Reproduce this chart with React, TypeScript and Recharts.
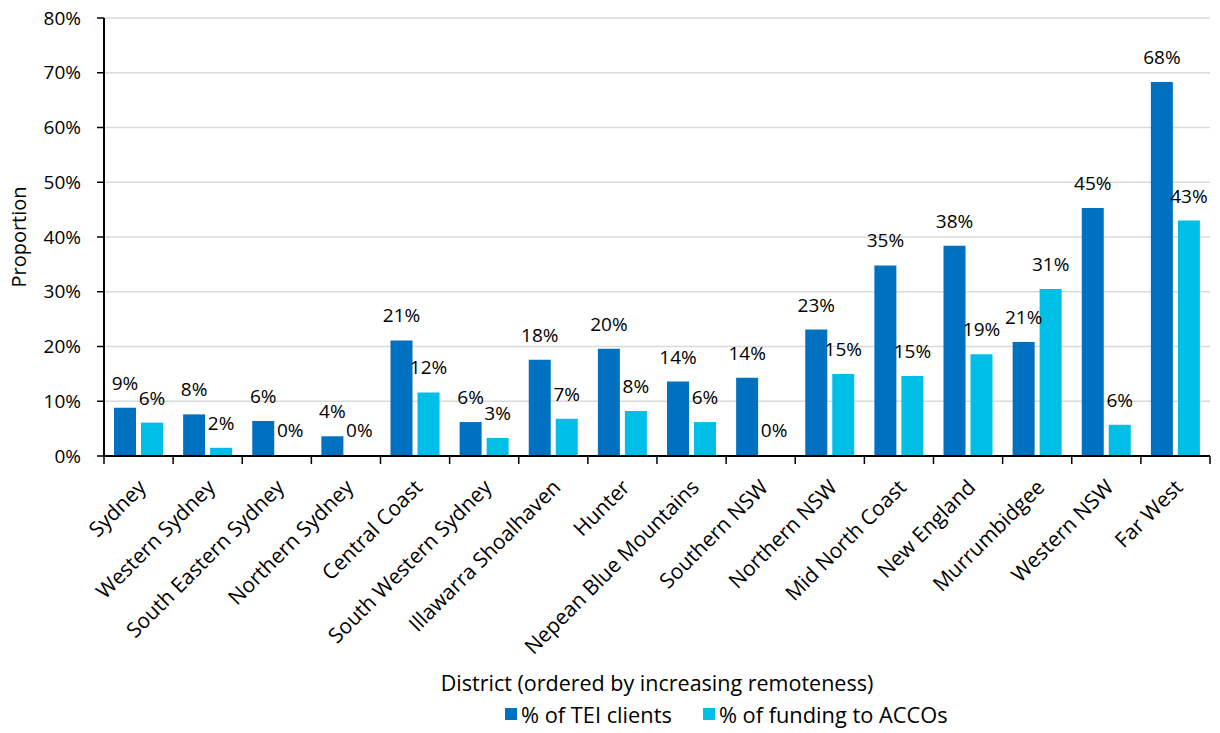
import React from "react";
import {
  BarChart,
  Bar,
  XAxis,
  YAxis,
  CartesianGrid,
  LabelList,
  Label,
  Legend,
} from "recharts";

// Districts, ordered by increasing remoteness
const districts = [
  "Sydney",
  "Western Sydney",
  "South Eastern Sydney",
  "Northern Sydney",
  "Central Coast",
  "South Western Sydney",
  "Illawarra Shoalhaven",
  "Hunter",
  "Nepean Blue Mountains",
  "Southern NSW",
  "Northern NSW",
  "Mid North Coast",
  "New England",
  "Murrumbidgee",
  "Western NSW",
  "Far West",
];

// Share of TEI clients who are Aboriginal (proportion)
const teiClients = [
  0.088, 0.076, 0.064, 0.036, 0.211, 0.062, 0.176, 0.196, 0.136, 0.143, 0.231,
  0.348, 0.384, 0.208, 0.453, 0.683,
];

// Share of funding going to ACCOs (proportion)
const accoFunding = [
  0.061, 0.015, 0, 0, 0.116, 0.033, 0.068, 0.082, 0.062, 0, 0.15, 0.146,
  0.186, 0.305, 0.057, 0.43,
];

const yTicks = [0, 0.1, 0.2, 0.3, 0.4, 0.5, 0.6, 0.7, 0.8];

const seriesNames = ["% of TEI clients", "% of funding to ACCOs"];
const seriesColors = ["#0070C0", "#00BFE6"];

const data = districts.map((d, i) => ({
  district: d,
  tei: teiClients[i],
  acco: accoFunding[i],
}));

const FONT = "'Open Sans', 'Noto Sans', sans-serif";
const FS_NUM = 19;
const FS_TEXT = 21;

const CHART_W = 1220;
const CHART_H = 733;
const Y_AXIS_W = 104;
const MARGIN = { top: 18, right: 10, left: 0, bottom: 1 };
const BAND = (CHART_W - MARGIN.left - MARGIN.right - Y_AXIS_W) / districts.length;

const pct = (v: number) => `${Math.round(v * 100)}%`;

const XTick = (props: any) => {
  const { x, y, payload, index } = props;
  const half = BAND / 2;
  const last = index === districts.length - 1;
  const ax = x + 3;
  const ay = y + 27;
  return (
    <g>
      <line x1={x - half} x2={x - half} y1={y} y2={y + 8} stroke="#000" strokeWidth={1.5} />
      {last && (
        <line x1={x + half} x2={x + half} y1={y} y2={y + 8} stroke="#000" strokeWidth={1.5} />
      )}
      <text
        x={ax}
        y={ay}
        textAnchor="end"
        dominantBaseline="central"
        transform={`rotate(-45, ${ax}, ${ay})`}
        fontFamily={FONT}
        fontSize={FS_TEXT}
        fill="#000"
      >
        {payload.value}
      </text>
    </g>
  );
};

const LegendContent = () => (
  <div
    style={{
      display: "flex",
      alignItems: "center",
      marginLeft: 505,
      fontFamily: FONT,
      fontSize: 21.8,
      color: "#000",
      height: 36,
    }}
  >
    {seriesNames.map((n, i) => (
      <div key={n} style={{ display: "flex", alignItems: "center", marginRight: 31 }}>
        <span
          style={{
            display: "inline-block",
            width: 12,
            height: 12,
            background: seriesColors[i],
            marginRight: 4,
          }}
        />
        <span>{n}</span>
      </div>
    ))}
  </div>
);

const numStyle = { fontFamily: FONT, fontSize: FS_NUM, fill: "#000" };
const textStyle = { fontFamily: FONT, fontSize: FS_TEXT, fill: "#000" };

export default function App() {
  return (
    <div style={{ position: "absolute", left: 0, top: 0, background: "#fff" }}>
      <BarChart
        width={CHART_W}
        height={CHART_H}
        data={data}
        margin={MARGIN}
        barSize={22}
        barGap={5}
      >
        <CartesianGrid vertical={false} stroke="#d9d9d9" strokeWidth={1.5} />
        <Bar
          dataKey="tei"
          name={seriesNames[0]}
          fill={seriesColors[0]}
          minPointSize={1}
          isAnimationActive={false}
        >
          <LabelList
            dataKey="tei"
            position="top"
            offset={18}
            formatter={(v: any) => pct(Number(v))}
            style={numStyle}
          />
        </Bar>
        <Bar
          dataKey="acco"
          name={seriesNames[1]}
          fill={seriesColors[1]}
          minPointSize={1}
          isAnimationActive={false}
        >
          <LabelList
            dataKey="acco"
            position="top"
            offset={18}
            formatter={(v: any) => pct(Number(v))}
            style={numStyle}
          />
        </Bar>
        <XAxis
          dataKey="district"
          interval={0}
          height={240}
          tickSize={0}
          tickMargin={0}
          tickLine={false}
          tick={<XTick />}
          axisLine={{ stroke: "#000", strokeWidth: 2 }}
        >
          <Label
            value="District (ordered by increasing remoteness)"
            position="insideBottom"
            offset={5}
            style={{ ...textStyle, fontSize: 21.5 }}
          />
        </XAxis>
        <YAxis
          width={Y_AXIS_W}
          domain={[0, 0.8]}
          ticks={yTicks}
          tickFormatter={pct}
          tickSize={7}
          tickMargin={16}
          tickLine={{ stroke: "#000", strokeWidth: 1.5 }}
          axisLine={{ stroke: "#000", strokeWidth: 2 }}
          tick={numStyle}
        >
          <Label
            value="Proportion"
            angle={-90}
            position="insideLeft"
            offset={19}
            style={{ ...textStyle, fontSize: 20, textAnchor: "middle" }}
          />
        </YAxis>
        <Legend verticalAlign="bottom" height={36} content={<LegendContent />} />
      </BarChart>
    </div>
  );
}
